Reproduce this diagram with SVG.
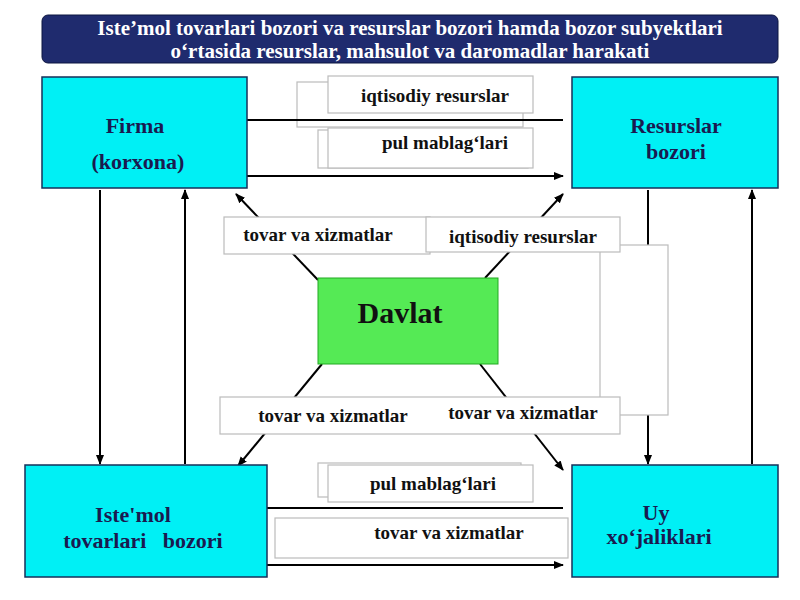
<svg xmlns="http://www.w3.org/2000/svg" width="800" height="600" viewBox="0 0 800 600">
<style>
.t{font-family:"Liberation Serif",serif;font-weight:bold;font-size:19px;fill:#111;text-anchor:middle}
.n{font-family:"Liberation Serif",serif;font-weight:bold;font-size:22px;fill:#1a1a50;text-anchor:middle}
.b{fill:#00f0f5;stroke:#16305a;stroke-width:1.5}
.l{fill:#fff;stroke:#bbb;stroke-width:1.2}
.c{stroke:#000;stroke-width:2;fill:none}
</style>
<defs><marker id="a" markerWidth="10" markerHeight="10" refX="9" refY="5" orient="auto" markerUnits="userSpaceOnUse"><path d="M0,1 L10,5 L0,9 z" fill="#000"/></marker></defs>
<rect width="800" height="600" fill="#fff"/>
<g id="title"><rect x="42" y="15" width="736" height="48" rx="6" fill="#1f2b6e" stroke="#0d1640"/>
<text x="410" y="35" class="t" style="fill:#fff;font-size:21px">Iste’mol tovarlari bozori va resurslar bozori hamda bozor subyektlari</text>
<text x="410" y="58" class="t" style="fill:#fff;font-size:21px">o‘rtasida resurslar, mahsulot va daromadlar harakati</text></g>
<g id="connectors">
<line class="c" x1="100" y1="190" x2="100" y2="464" marker-end="url(#a)"/>
<line class="c" x1="185" y1="464" x2="185" y2="190" marker-end="url(#a)"/>
<line class="c" x1="648" y1="190" x2="648" y2="464" marker-end="url(#a)"/>
<line class="c" x1="752" y1="464" x2="752" y2="190" marker-end="url(#a)"/>
<line class="c" x1="318" y1="280" x2="236" y2="194" marker-end="url(#a)"/>
<line class="c" x1="485" y1="278" x2="563" y2="194" marker-end="url(#a)"/>
<line class="c" x1="322" y1="364" x2="238" y2="466" marker-end="url(#a)"/>
<line class="c" x1="480" y1="364" x2="563" y2="470" marker-end="url(#a)"/>
</g>
<g id="labels">
<rect class="l" x="600" y="245" width="68" height="170"/>
<rect class="l" x="297" y="82" width="226" height="45"/>
<rect class="l" x="328" y="76" width="205" height="37"/>
<text class="t" x="435" y="102">iqtisodiy resurslar</text>
<rect class="l" x="318" y="130" width="210" height="38"/>
<rect class="l" x="328" y="128" width="205" height="40"/>
<text class="t" x="445" y="149">pul mablag‘lari</text>
<rect class="l" x="224" y="217" width="206" height="37"/>
<text class="t" x="318" y="241">tovar va xizmatlar</text>
<rect class="l" x="426" y="217" width="194" height="35"/>
<text class="t" x="523" y="243">iqtisodiy resurslar</text>
<rect class="l" x="220" y="397" width="400" height="37"/>
<text class="t" x="333" y="422">tovar va xizmatlar</text>
<text class="t" x="523" y="419">tovar va xizmatlar</text>
<rect class="l" x="318" y="463" width="203" height="34"/>
<rect class="l" x="328" y="465" width="205" height="37"/>
<text class="t" x="433" y="490">pul mablag‘lari</text>
<rect class="l" x="275" y="518" width="293" height="40"/>
<text class="t" x="449" y="539">tovar va xizmatlar</text>
</g>
<g id="flows">
<line class="c" x1="247" y1="120" x2="563" y2="120"/>
<line class="c" x1="247" y1="176" x2="563" y2="176" marker-end="url(#a)"/>
<line class="c" x1="267" y1="508" x2="563" y2="508"/>
<line class="c" x1="267" y1="565" x2="563" y2="565" marker-end="url(#a)"/>
</g>
<g id="firma"><rect class="b" x="42" y="77" width="205" height="111"/><text class="n" x="135" y="133">Firma</text><text class="n" x="138" y="169">(korxona)</text></g>
<g id="resurslar"><rect class="b" x="572" y="77" width="206" height="111"/><text class="n" x="676" y="133">Resurslar</text><text class="n" x="676" y="159">bozori</text></g>
<g id="istemol"><rect class="b" x="25" y="465" width="242" height="112"/><text class="n" x="133" y="522">Iste'mol</text><text class="n" x="143" y="548" xml:space="preserve">tovarlari   bozori</text></g>
<g id="uy"><rect class="b" x="572" y="465" width="206" height="112"/><text class="n" x="656" y="520">Uy</text><text class="n" x="659" y="544">xo‘jaliklari</text></g>
<g id="davlat"><rect x="318" y="278" width="180" height="86" fill="#55ea55" stroke="#2a2"/><text class="t" x="400" y="323" style="font-size:30px">Davlat</text></g>
</svg>
